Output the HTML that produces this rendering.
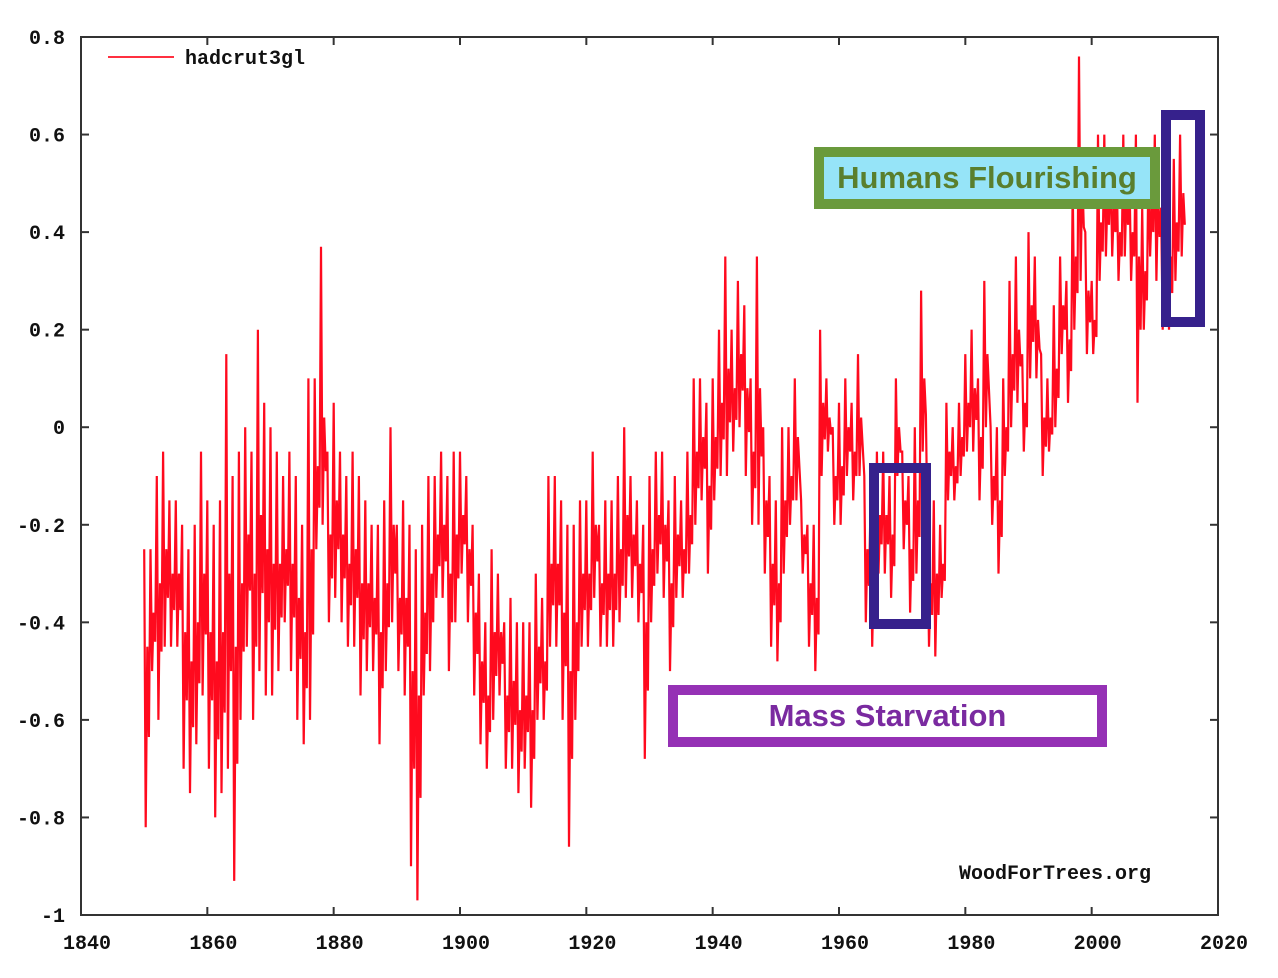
<!DOCTYPE html>
<html><head><meta charset="utf-8"><style>
body{margin:0;background:#fff;width:1278px;height:978px;overflow:hidden;position:relative}
svg{position:absolute;left:0;top:0}
.lbl{font-family:"Liberation Mono",monospace;font-weight:bold;font-size:20px;fill:#111}
.box{position:absolute;box-sizing:border-box;font-family:"Liberation Sans",sans-serif;font-weight:bold;font-size:31px;display:flex;align-items:center;justify-content:center}
</style></head><body>
<svg id="chart" width="1278" height="978"></svg>
<div class="box" style="left:814px;top:147px;width:346px;height:62px;border:10px solid #6a9a3c;background:#96e4f8;color:#5a7f2e">Humans Flourishing</div>
<div class="box" style="left:1161px;top:110px;width:44px;height:217px;border:10px solid #36218c"></div>
<div class="box" style="left:869px;top:463px;width:62px;height:166px;border:10px solid #36218c"></div>
<div class="box" style="left:668px;top:685px;width:439px;height:62px;border:10px solid #9531b5;background:#fff;color:#7a2aa0">Mass Starvation</div>
<script>
const startYear = 1850;
const yearHigh = [-0.25,-0.25,-0.1,-0.05,-0.15,-0.15,-0.2,-0.25,-0.2,-0.05,-0.15,-0.2,-0.15,0.15,-0.1,-0.05,0.0,-0.05,0.2,0.05,0.0,-0.05,-0.1,-0.05,-0.1,-0.2,0.1,0.1,0.37,-0.05,0.05,-0.05,-0.1,-0.05,-0.1,-0.15,-0.2,-0.2,-0.15,0.0,-0.2,-0.15,-0.2,-0.25,-0.2,-0.1,-0.1,-0.05,-0.1,-0.05,-0.05,-0.1,-0.2,-0.3,-0.4,-0.25,-0.3,-0.4,-0.35,-0.4,-0.4,-0.4,-0.3,-0.35,-0.1,-0.1,-0.15,-0.2,-0.2,-0.15,-0.15,-0.05,-0.2,-0.15,-0.15,-0.1,0.0,-0.1,-0.15,-0.2,-0.1,-0.05,-0.05,-0.15,-0.1,-0.15,-0.05,0.1,0.1,0.05,0.1,0.2,0.35,0.2,0.3,0.25,0.1,0.35,0.0,-0.1,-0.15,0.0,0.0,0.1,-0.15,-0.2,-0.2,0.2,0.1,0.0,0.05,0.1,0.05,0.15,-0.1,-0.15,-0.05,-0.05,-0.1,0.1,-0.05,-0.1,0.0,0.28,-0.2,-0.15,-0.2,0.05,0.0,0.05,0.15,0.2,0.1,0.3,0.0,0.0,0.1,0.3,0.35,0.15,0.4,0.35,0.15,0.1,0.25,0.35,0.3,0.5,0.76,0.4,0.3,0.6,0.6,0.55,0.5,0.6,0.5,0.6,0.45,0.55,0.6,0.45,0.5,0.55,0.6];
const yearMean = [-0.45,-0.38,-0.32,-0.25,-0.3,-0.3,-0.42,-0.48,-0.4,-0.3,-0.42,-0.48,-0.42,-0.3,-0.45,-0.32,-0.22,-0.3,-0.18,-0.25,-0.28,-0.28,-0.25,-0.28,-0.35,-0.42,-0.25,-0.08,0.02,-0.22,-0.15,-0.22,-0.28,-0.25,-0.32,-0.32,-0.35,-0.42,-0.32,-0.2,-0.35,-0.35,-0.5,-0.55,-0.38,-0.3,-0.22,-0.2,-0.3,-0.22,-0.18,-0.25,-0.38,-0.48,-0.55,-0.42,-0.42,-0.55,-0.52,-0.58,-0.55,-0.58,-0.45,-0.48,-0.28,-0.28,-0.38,-0.5,-0.4,-0.3,-0.3,-0.2,-0.32,-0.3,-0.3,-0.25,-0.18,-0.22,-0.28,-0.4,-0.25,-0.18,-0.2,-0.32,-0.22,-0.25,-0.18,-0.05,-0.02,-0.12,-0.02,0.05,0.12,0.08,0.15,0.08,-0.05,0.08,-0.15,-0.28,-0.32,-0.15,-0.1,-0.02,-0.22,-0.32,-0.35,0.05,0.02,-0.1,-0.08,0.0,-0.05,0.02,-0.25,-0.3,-0.18,-0.18,-0.22,0.0,-0.15,-0.25,-0.15,0.1,-0.32,-0.3,-0.28,-0.05,-0.08,-0.02,0.05,0.08,-0.02,0.15,-0.1,-0.15,0.0,0.15,0.2,0.05,0.25,0.22,0.02,0.02,0.12,0.25,0.18,0.35,0.52,0.28,0.22,0.42,0.48,0.45,0.4,0.48,0.4,0.35,0.32,0.45,0.48,0.35,0.35,0.42,0.48];
const yearLow = [-0.82,-0.5,-0.6,-0.45,-0.45,-0.45,-0.7,-0.75,-0.65,-0.55,-0.7,-0.8,-0.75,-0.7,-0.93,-0.6,-0.45,-0.6,-0.5,-0.55,-0.55,-0.5,-0.4,-0.5,-0.6,-0.65,-0.6,-0.25,-0.2,-0.4,-0.35,-0.4,-0.45,-0.45,-0.55,-0.5,-0.5,-0.65,-0.5,-0.4,-0.5,-0.55,-0.9,-0.97,-0.55,-0.5,-0.35,-0.35,-0.5,-0.4,-0.3,-0.4,-0.55,-0.65,-0.7,-0.6,-0.55,-0.7,-0.7,-0.75,-0.7,-0.78,-0.6,-0.6,-0.45,-0.45,-0.6,-0.86,-0.6,-0.45,-0.45,-0.35,-0.45,-0.45,-0.45,-0.4,-0.35,-0.35,-0.4,-0.68,-0.4,-0.3,-0.35,-0.5,-0.35,-0.35,-0.3,-0.2,-0.15,-0.3,-0.15,-0.1,-0.1,-0.05,0.0,-0.1,-0.2,-0.2,-0.3,-0.45,-0.48,-0.3,-0.2,-0.15,-0.3,-0.45,-0.5,-0.1,-0.05,-0.2,-0.2,-0.1,-0.15,-0.1,-0.4,-0.45,-0.3,-0.3,-0.35,-0.1,-0.25,-0.38,-0.3,-0.05,-0.45,-0.47,-0.35,-0.15,-0.15,-0.1,-0.05,-0.05,-0.15,0.0,-0.2,-0.3,-0.1,0.0,0.05,-0.05,0.1,0.1,-0.1,-0.05,0.0,0.15,0.05,0.2,0.3,0.15,0.15,0.3,0.35,0.35,0.3,0.35,0.3,0.05,0.2,0.35,0.3,0.2,0.2,0.3,0.35];
const xTicks = [1840,1860,1880,1900,1920,1940,1960,1980,2000,2020];
const yTicks = [0.8,0.6,0.4,0.2,0,-0.2,-0.4,-0.6,-0.8,-1];
const yTickLabels = ["0.8","0.6","0.4","0.2","0","-0.2","-0.4","-0.6","-0.8","-1"];

const L=81,R=1218,T=37,B=915;
const xs=y=>L+(y-1840)/(2020-1840)*(R-L);
const ys=v=>T+(0.8-v)/1.8*(B-T);
const svg=document.getElementById('chart');
const NS='http://www.w3.org/2000/svg';
function mk(tag,attrs){const e=document.createElementNS(NS,tag);for(const k in attrs)e.setAttribute(k,attrs[k]);svg.appendChild(e);return e;}

let pts=[];
for(let i=0;i<yearHigh.length;i++){
  pts.push(xs(startYear+i+0.0).toFixed(1)+','+ys(yearHigh[i]).toFixed(1));
  pts.push(xs(startYear+i+0.25).toFixed(1)+','+ys(yearLow[i]).toFixed(1));
  pts.push(xs(startYear+i+0.5).toFixed(1)+','+ys(yearMean[i]).toFixed(1));
  pts.push(xs(startYear+i+0.75).toFixed(1)+','+ys((yearLow[i]+yearMean[i])/2).toFixed(1));
}
const line=mk('polyline',{points:pts.join(' '),fill:'none',stroke:'#ff0a1e','stroke-width':2.2,'stroke-linejoin':'miter'});



const frame=mk('rect',{x:L,y:T,width:R-L,height:B-T,fill:'none',stroke:'#333','stroke-width':2});



xTicks.forEach(t=>{
  const x=xs(t);
  if(t>1840&&t<2020){
    const a=mk('line',{x1:x,y1:B,x2:x,y2:B-8,stroke:'#333','stroke-width':2});
    
    
    const b=mk('line',{x1:x,y1:T,x2:x,y2:T+8,stroke:'#333','stroke-width':2});
    
    
  }
  const tx=mk('text',{x:x+6,y:949,'text-anchor':'middle',class:'lbl'});
  tx.textContent=t;
  
  
});
yTicks.forEach((v,i)=>{
  const y=ys(v);
  if(i>0&&i<yTicks.length-1){
    const a=mk('line',{x1:L,y1:y,x2:L+8,y2:y,stroke:'#333','stroke-width':2});
    
    
    const b=mk('line',{x1:R,y1:y,x2:R-8,y2:y,stroke:'#333','stroke-width':2});
    
    
  }
  const tx=mk('text',{x:65,y:y+7,'text-anchor':'end',class:'lbl'});
  tx.textContent=yTickLabels[i];
  
  
});
const ll=mk('line',{x1:108,y1:57,x2:174,y2:57,stroke:'#ff3040','stroke-width':2});


const lt=mk('text',{x:185,y:64,class:'lbl'});
lt.textContent='hadcrut3gl';


const wm=mk('text',{x:959,y:879,class:'lbl'});
wm.textContent='WoodForTrees.org';


</script>
</body></html>
